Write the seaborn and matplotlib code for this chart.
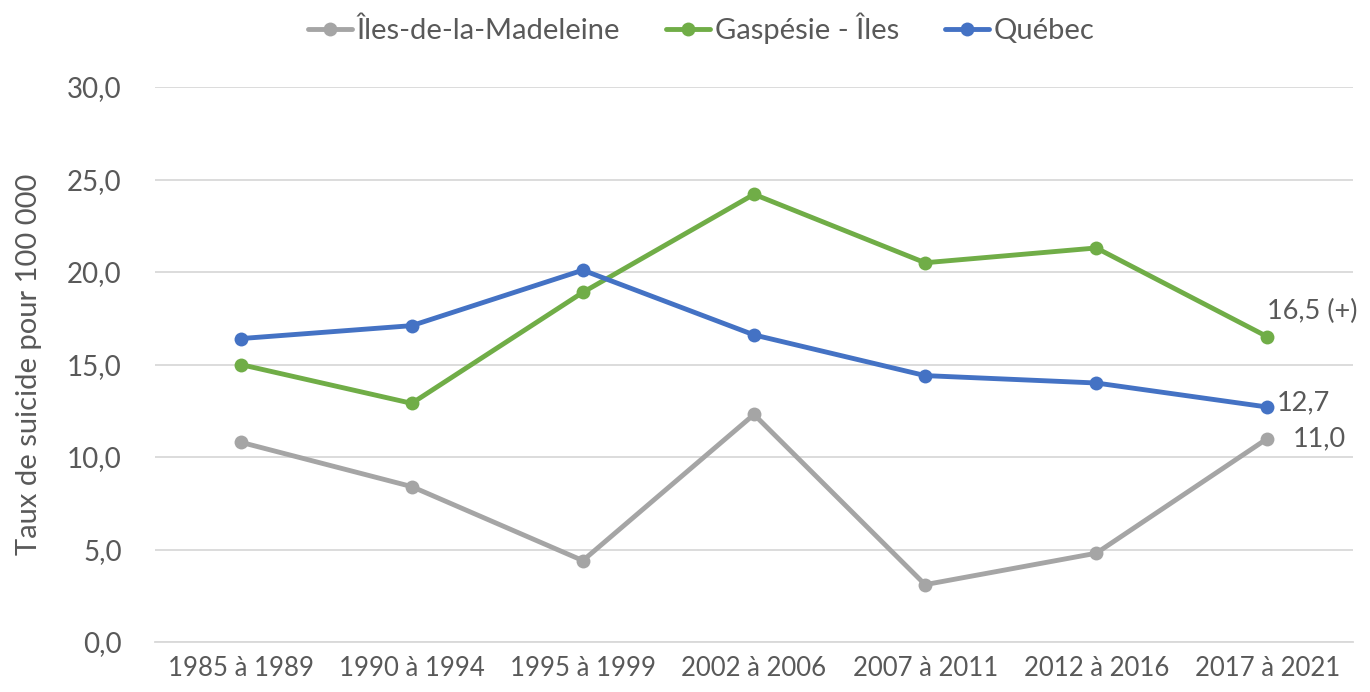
import matplotlib
matplotlib.use("Agg")
import matplotlib.pyplot as plt
import seaborn as sns
import pandas as pd

periods = ["1985 à 1989", "1990 à 1994", "1995 à 1999", "2002 à 2006",
           "2007 à 2011", "2012 à 2016", "2017 à 2021"]
series_names = ["Îles-de-la-Madeleine", "Gaspésie - Îles", "Québec"]
iles = [10.8, 8.4, 4.4, 12.3, 3.1, 4.8, 11.0]
gaspesie = [15.0, 12.9, 18.9, 24.2, 20.5, 21.3, 16.5]
quebec = [16.4, 17.1, 20.1, 16.6, 14.4, 14.0, 12.7]
colors = ["#A5A5A5", "#70AD47", "#4472C4"]
yticks = [0, 5, 10, 15, 20, 25, 30]

rows = []
for name, vals in zip(series_names, [iles, gaspesie, quebec]):
    for i, (p, v) in enumerate(zip(periods, vals)):
        rows.append({"x": i, "period": p, "val": v, "region": name})
df = pd.DataFrame(rows)

sns.set_theme(style="white")
plt.rcParams["font.family"] = ["Lato", "DejaVu Sans"]
txt = "#595959"

fig = plt.figure(figsize=(13.7, 6.92), dpi=100)
ax = fig.add_axes([155/1370, 1-642/692, (1353-155)/1370, (642-87)/692])

sns.lineplot(data=df, x="x", y="val", hue="region", hue_order=series_names,
             palette=colors, marker="o", markersize=10, markeredgewidth=0,
             linewidth=3.5, sort=False, ax=ax, zorder=3)

ax.set_xlim(-0.5, 6.5)
ax.set_ylim(0, 30)
ax.set_xticks(range(len(periods)))
ax.set_xticklabels(periods, fontsize=18.5, color=txt)
ax.set_yticks(yticks)
ax.set_yticklabels([f"{v:.1f}".replace(".", ",") for v in yticks], fontsize=20, color=txt)
ax.yaxis.grid(True, color="#D9D9D9", linewidth=1.3)
ax.xaxis.grid(False)
for s in ["top", "right", "left"]:
    ax.spines[s].set_visible(False)
ax.spines["bottom"].set_color("#D9D9D9")
ax.spines["bottom"].set_linewidth(1.3)
ax.tick_params(axis="y", length=0, pad=24)
ax.tick_params(axis="x", length=0, pad=10)
ax.set_xlabel("")
ax.set_ylabel("Taux de suicide pour 100 000", fontsize=21, color=txt, labelpad=18)

# data labels
last = len(periods) - 1
ax.annotate(f"{gaspesie[-1]:.1f}".replace(".", ",") + " (+)", (last, gaspesie[-1]),
            xytext=(0, 9), textcoords="offset points", fontsize=19.5, color=txt,
            ha="left", va="bottom")
ax.annotate(f"{quebec[-1]:.1f}".replace(".", ","), (last, quebec[-1]),
            xytext=(7, 3), textcoords="offset points", fontsize=19.5, color=txt,
            ha="left", va="center")
ax.annotate(f"{iles[-1]:.1f}".replace(".", ","), (last, iles[-1]),
            xytext=(18, 0), textcoords="offset points", fontsize=19.5, color=txt,
            ha="left", va="center")

handles, labels = ax.get_legend_handles_labels()
ax.legend(handles, labels, loc="center", bbox_to_anchor=(0.456, 1 + 59/555), ncol=3,
          frameon=False, fontsize=21, handlelength=1.5, handletextpad=0.15,
          columnspacing=1.6, labelcolor=txt)

fig.savefig("out.png", dpi=100)
